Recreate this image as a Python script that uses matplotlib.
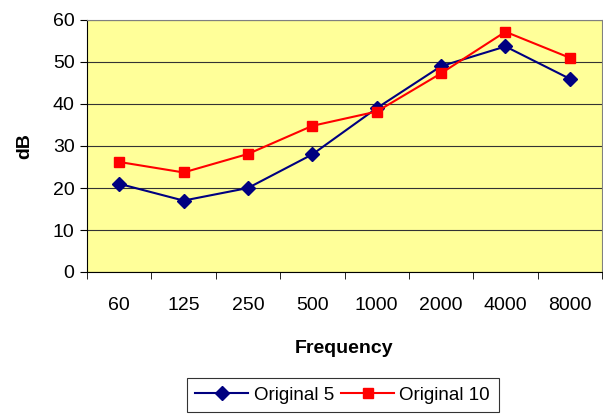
import numpy as np
import matplotlib
matplotlib.use('Agg')
import matplotlib.pyplot as plt
from matplotlib.ticker import FixedLocator

freqs = ['60', '125', '250', '500', '1000', '2000', '4000', '8000']
original_5 = [21, 17, 20, 28, 39, 49, 53.7, 46]
original_10 = [26.2, 23.7, 28.1, 34.8, 38.2, 47.3, 57.2, 51]

plt.rcParams['font.family'] = ['Liberation Sans', 'DejaVu Sans']

fig = plt.figure(figsize=(6.03, 4.17), dpi=100)
ax = fig.add_axes([87 / 603, 1 - 272 / 417, 515 / 603, 252 / 417])
ax.set_facecolor('#FFFF99')

x = np.arange(len(freqs))
ax.plot(x, original_5, color='#000080', marker='D', markersize=7, lw=1.5, label='Original 5')
ax.plot(x, original_10, color='#FF0000', marker='s', markersize=7, lw=1.5, label='Original 10')

ax.set_xlim(-0.5, len(freqs) - 0.5)
ax.set_ylim(0, 60)
ax.set_yticks(np.arange(0, 61, 10))
ax.yaxis.grid(True, color='#333333', lw=0.8)
ax.set_axisbelow(True)

# labels in the middle, tick marks between categories
ax.set_xticks(x)
ax.set_xticklabels(freqs)
ax.xaxis.set_minor_locator(FixedLocator(np.arange(-0.5, len(freqs), 1)))
ax.tick_params(axis='x', which='major', length=0, pad=18, labelsize=14)
ax.tick_params(axis='x', which='minor', length=5, color='#000000', direction='out')
ax.tick_params(axis='y', length=5, labelsize=14, pad=4)

for s in ax.spines.values():
    s.set_color('#808080')
ax.spines['left'].set_color('#000000')
ax.spines['bottom'].set_color('#000000')

ax.set_xlabel('Frequency', fontsize=14, fontweight='bold', labelpad=19)
ax.set_ylabel('dB', fontsize=14, fontweight='bold', labelpad=14)

leg = fig.legend(loc='upper left', bbox_to_anchor=(187 / 603, 1 - 378 / 417), ncol=2,
                 frameon=True, fancybox=False, fontsize=13.5, handlelength=2.8,
                 columnspacing=0.4, handletextpad=0.3, borderpad=0.45, borderaxespad=0)
leg.get_frame().set_edgecolor('#000000')
leg.get_frame().set_linewidth(0.8)

fig.savefig('out.png', dpi=100)
